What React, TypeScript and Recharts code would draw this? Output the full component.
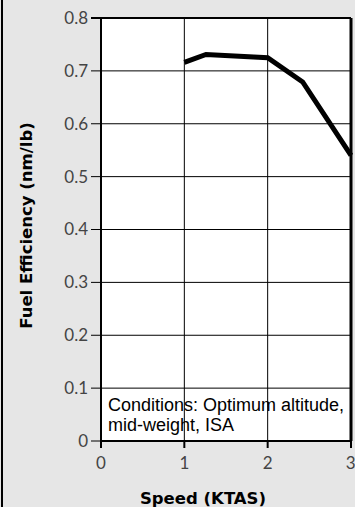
import {
  LineChart,
  Line,
  XAxis,
  YAxis,
  CartesianGrid,
  ReferenceLine,
} from "recharts";

const speeds = [1.0, 1.26, 2.0, 2.42, 3.0];
const efficiency = [0.716, 0.731, 0.725, 0.679, 0.54];
const xTicks = [0, 1, 2, 3];
const yTicks = [0, 0.1, 0.2, 0.3, 0.4, 0.5, 0.6, 0.7, 0.8];
const noteLines = ["Conditions: Optimum altitude,", "mid-weight, ISA"];

const data = speeds.map((s, i) => ({ speed: s, eff: efficiency[i] }));

const PLOT_W = 250;

const tickFont = { fontFamily: "Lato, sans-serif", fontSize: 17, fill: "#444" };
const titleFont = {
  fontFamily: "'DejaVu Sans', sans-serif",
  fontWeight: 700,
  fill: "#000",
};

// y tick: label, tick mark and the horizontal grid line across the plot
function YTick(props: any) {
  const { x, y, payload } = props;
  const v: number = payload.value;
  return (
    <g>
      <line
        x1={x + 3}
        x2={x + 13 + PLOT_W}
        y1={y}
        y2={y}
        stroke="#000"
        strokeWidth={v === 0.8 ? 2 : 1}
      />
      <text x={x} y={y} dy="0.35em" textAnchor="end" style={tickFont}>
        {v === 0 ? "0" : v.toFixed(1)}
      </text>
    </g>
  );
}

export default function App() {
  return (
    <div
      style={{
        position: "absolute",
        left: 0,
        top: 0,
        width: 355,
        height: 507,
        background: "#e6e6e6",
        overflow: "hidden",
      }}
    >
      <div style={{ position: "absolute", left: 1, top: 0, width: 2, height: 507, background: "#000" }} />
      {/* white plot background behind the svg */}
      <div style={{ position: "absolute", left: 101, top: 18, width: PLOT_W, height: 423, background: "#fff" }} />
      <div style={{ position: "absolute", left: 0, top: 0 }}>
        <LineChart
          width={355}
          height={507}
          data={data}
          margin={{ top: 18, right: 4, left: 0, bottom: 0 }}
        >
          <CartesianGrid stroke="#000" strokeWidth={1} verticalValues={[1, 2]} horizontal={false} />
          <XAxis
            dataKey="speed"
            type="number"
            domain={[0, 3]}
            ticks={xTicks}
            height={66}
            tickSize={7}
            tickMargin={9}
            tick={tickFont}
            stroke="#000"
            strokeWidth={2}
            label={{
              value: "Speed (KTAS)",
              position: "insideBottom",
              offset: 3,
              dx: -23,
              style: { ...titleFont, fontSize: 16.5 },
            }}
          />
          <YAxis
            type="number"
            domain={[0, 0.8]}
            ticks={yTicks}
            width={101}
            tickSize={10}
            tickMargin={3}
            tickLine={false}
            tick={<YTick />}
            stroke="#000"
            strokeWidth={2}
            label={{
              value: "Fuel Efficiency (nm/lb)",
              angle: -90,
              position: "insideLeft",
              offset: 26,
              dx: 0,
              dy: -4,
              style: { ...titleFont, fontSize: 16.5, textAnchor: "middle" },
            }}
          />
          <ReferenceLine x={3} stroke="#000" strokeWidth={3} />
          <Line
            dataKey="eff"
            type="linear"
            stroke="#000"
            strokeWidth={5}
            dot={false}
            isAnimationActive={false}
          />
        </LineChart>
      </div>
      <div
        style={{
          position: "absolute",
          left: 108,
          top: 395,
          fontFamily: "'Liberation Sans', Arial, sans-serif",
          fontSize: 18,
          lineHeight: "20px",
          color: "#000",
          whiteSpace: "nowrap",
        }}
      >
        {noteLines.map((l) => (
          <div key={l}>{l}</div>
        ))}
      </div>
    </div>
  );
}
